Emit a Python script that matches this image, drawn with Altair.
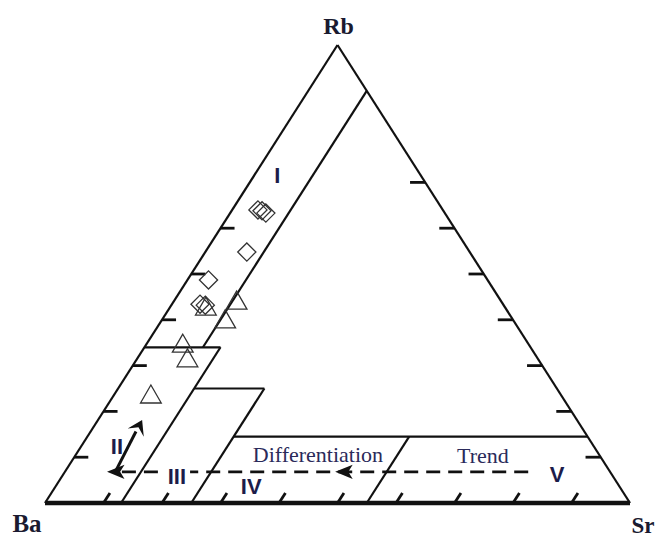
import altair as alt
import pandas as pd

# Rb-Ba-Sr ternary diagram: Ba bottom-left, Sr bottom-right, Rb at the apex.
# All compositions are in percent (Rb, Sr); Ba = 100 - Rb - Sr.

# Sample compositions
diamond_rb = [64.0, 63.3, 63.8, 54.8, 48.7, 43.2, 43.4]
diamond_sr = [4.4, 6.1, 5.2, 7.1, 3.6, 5.8, 4.8]
triangle_rb = [44.3, 43.0, 40.2, 34.9, 31.7, 23.8]
triangle_sr = [10.6, 6.0, 10.7, 6.1, 8.5, 6.2]

# Field boundaries as (Rb, Sr) start and end points
field_rb1 = [0, 0, 90, 34, 34, 25, 25, 14.5, 14.5]
field_sr1 = [0, 100, 10, 0, 13, 13, 25, 25, 55]
field_rb2 = [100, 100, 34, 34, 0, 25, 0, 14.5, 0]
field_sr2 = [0, 0, 10, 13, 13, 25, 25, 85.5, 55]

# Tick positions on each side (percent)
base_ticks = [10, 20, 30, 40, 50, 60, 70, 80, 90]
right_ticks = [10, 20, 30, 40, 50, 60, 70]
left_ticks = [10, 20, 30, 40, 50, 60]

# Field names
field_names = ["I", "II", "III", "IV", "V"]
field_name_rb = [71.4, 12.2, 5.7, 3.5, 6.1]
field_name_sr = [4.0, 6.2, 19.7, 33.5, 84.5]

# Trend annotation
trend_words = ["Differentiation", "Trend"]
trend_word_rb = [10.5, 10.3]
trend_word_sr = [41.4, 69.7]
trend_rb = 6.8
trend_dash_sr = [(79.2, 21.4), (15.9, 9.1)]
trend_head_sr = [46.2, 7.2]
branch_rb = [7.0, 18.1]
branch_sr = [8.6, 7.55]

# Vertex labels
vertex_names = ["Rb", "Ba", "Sr"]
vertex_rb = [100, 0, 0]
vertex_sr = [0, 0, 100]


def px(rb, sr):
    return sr / 100 + rb / 200


def py(rb, sr):
    return rb / 100


def seg_frame(rb1, sr1, rb2, sr2):
    return pd.DataFrame({
        "x": [px(a, b) for a, b in zip(rb1, sr1)],
        "y": [py(a, b) for a, b in zip(rb1, sr1)],
        "x2": [px(a, b) for a, b in zip(rb2, sr2)],
        "y2": [py(a, b) for a, b in zip(rb2, sr2)],
    })


def pt_frame(rb, sr, **extra):
    d = {"x": [px(a, b) for a, b in zip(rb, sr)],
         "y": [py(a, b) for a, b in zip(rb, sr)]}
    d.update(extra)
    return pd.DataFrame(d)


W, H = 659, 538
xs = alt.Scale(domain=[-45 / 585, 614 / 585], nice=False, zero=False)
ys = alt.Scale(domain=[-35 / 458, 503 / 458], nice=False, zero=False)
X = alt.X("x:Q", scale=xs, axis=None)
Y = alt.Y("y:Q", scale=ys, axis=None)


def rules(df, **kw):
    return alt.Chart(df).mark_rule(color="#111", **kw).encode(
        x=X, y=Y, x2="x2:Q", y2="y2:Q")


fields = rules(seg_frame(field_rb1, field_sr1, field_rb2, field_sr2), strokeWidth=2.2)
base = rules(seg_frame([0], [0], [0], [100]), strokeWidth=4.5)

# ticks: base ticks lean along the Rb direction, side ticks run parallel to the base
tb = seg_frame([0] * len(base_ticks), base_ticks, [2.2] * len(base_ticks), base_ticks)
tr = seg_frame(right_ticks, [100 - t for t in right_ticks],
               right_ticks, [100 - t - 2.6 for t in right_ticks])
tl = seg_frame(left_ticks, [0] * len(left_ticks), left_ticks, [2.4] * len(left_ticks))
ticks = rules(pd.concat([tb, tr, tl]), strokeWidth=2.8)

dash_df = seg_frame([trend_rb] * len(trend_dash_sr), [a for a, _ in trend_dash_sr],
                    [trend_rb] * len(trend_dash_sr), [b for _, b in trend_dash_sr])
dashes = rules(dash_df, strokeWidth=2.8, strokeDash=[14, 8])

branch = rules(seg_frame([branch_rb[0]], [branch_sr[0]], [branch_rb[1] - 2.5], [branch_sr[1] + 0.2]),
               strokeWidth=3)

left_arrow = "M0,0L1.6,-0.65L1.2,0L1.6,0.65Z"
heads = alt.Chart(pt_frame([trend_rb] * 2, trend_head_sr)).mark_point(
    shape=left_arrow, filled=True, color="#111", size=480, opacity=1).encode(x=X, y=Y)

up_arrow = "M0,0L0.9,1.4L0,0.8L-0.9,1.4Z"
branch_head = alt.Chart(pt_frame([branch_rb[1]], [branch_sr[1]])).mark_point(
    shape=up_arrow, filled=True, color="#111", size=400, angle=27, opacity=1).encode(x=X, y=Y)

diamonds = alt.Chart(pt_frame(diamond_rb, diamond_sr)).mark_point(
    shape="diamond", filled=False, color="#333", strokeWidth=1.3, size=330, opacity=1
).encode(x=X, y=Y)
triangles = alt.Chart(pt_frame(triangle_rb, triangle_sr)).mark_point(
    shape="triangle-up", filled=False, color="#333", strokeWidth=1.3, size=430, opacity=1
).encode(x=X, y=Y)

numerals = alt.Chart(pt_frame(field_name_rb, field_name_sr, t=field_names)).mark_text(
    font="Liberation Sans", fontSize=22, fontWeight="bold", color="#1c1c4a",
    baseline="middle", align="center").encode(x=X, y=Y, text="t:N")

words = alt.Chart(pt_frame(trend_word_rb, trend_word_sr, t=trend_words)).mark_text(
    font="Liberation Serif", fontSize=22, color="#2a2a5a",
    baseline="middle", align="center").encode(x=X, y=Y, text="t:N")

vdf = pt_frame(vertex_rb, vertex_sr, t=vertex_names)
vlab = alt.layer(
    alt.Chart(vdf.iloc[[0]]).mark_text(font="Liberation Serif", fontSize=24, fontWeight="bold",
                                       color="#1a1a30", dx=1, dy=-11, baseline="alphabetic")
    .encode(x=X, y=Y, text="t:N"),
    alt.Chart(vdf.iloc[[1]]).mark_text(font="Liberation Serif", fontSize=25, fontWeight="bold",
                                       color="#1a1a30", dx=-18, dy=29, baseline="alphabetic")
    .encode(x=X, y=Y, text="t:N"),
    alt.Chart(vdf.iloc[[2]]).mark_text(font="Liberation Serif", fontSize=23, fontWeight="bold",
                                       color="#1a1a30", dx=13, dy=30, baseline="alphabetic")
    .encode(x=X, y=Y, text="t:N"),
)

chart = alt.layer(
    fields, base, ticks, dashes, branch, heads, branch_head,
    diamonds, triangles, numerals, words, vlab
).properties(
    width=W, height=H, padding=0, autosize=alt.AutoSizeParams(type="none"),
    background="white"
).configure_view(strokeWidth=0)

chart.save("out.html", embed_options={"renderer": "svg", "actions": False})
